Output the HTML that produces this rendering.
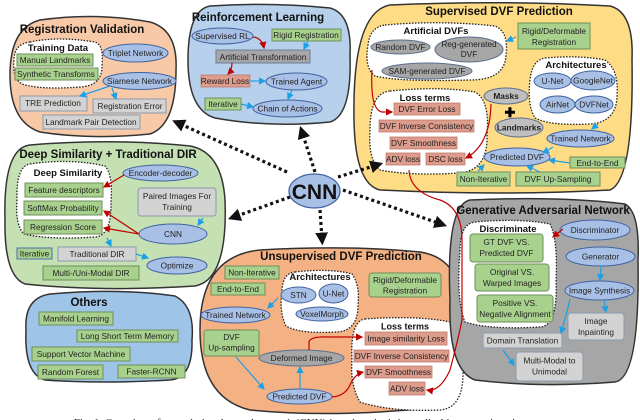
<!DOCTYPE html>
<html><head><meta charset="utf-8"><style>
html,body{margin:0;padding:0;background:#fff;width:640px;height:420px;overflow:hidden}
svg{display:block;font-family:"Liberation Sans",sans-serif}
.t{font-weight:bold;font-size:11.5px;fill:#111}
.st{font-weight:bold;font-size:9.5px;fill:#111}
.l{font-size:8.3px;fill:#222}
.g{fill:#a9d18e;stroke:#6e8f5a;stroke-width:1}
.r{fill:#dd9c8c;stroke:#c07a6a;stroke-width:0.8}
.y{fill:#d3d3d3;stroke:#8a9ab0;stroke-width:1}
.e{fill:#a9c0e6;stroke:#3f63a0;stroke-width:1}
.eg{fill:#a6a6a6;stroke:#5a6e8e;stroke-width:1}
.eb{fill:#bfbfbf;stroke:#5a6e8e;stroke-width:1}
.d{fill:#fff;stroke:#222;stroke-width:1.3;stroke-dasharray:1.5 1.5}
.bl{stroke:#1ea0e6;stroke-width:1.2;fill:none;marker-end:url(#ab)}
.rd{stroke:#c00000;stroke-width:1.2;fill:none;marker-end:url(#ar)}
.cn{stroke:#111;stroke-width:3.2;stroke-dasharray:3 3;fill:none;marker-end:url(#ak)}
</style></head><body>
<svg width="640" height="420" viewBox="0 0 640 420" text-anchor="middle">
<defs>
<marker id="ab" markerWidth="6" markerHeight="6" refX="5" refY="3" orient="auto"><path d="M0,0L6,3L0,6z" fill="#1ea0e6"/></marker>
<marker id="ar" markerWidth="6" markerHeight="6" refX="5" refY="3" orient="auto"><path d="M0,0L6,3L0,6z" fill="#c00000"/></marker>
<marker id="ak" markerWidth="4" markerHeight="4" refX="2" refY="2" orient="auto"><path d="M0,0L4,2L0,4z" fill="#111"/></marker>
</defs>

<path d="M40,20 Q95,12 150,22 Q178,30 176,70 Q176,125 150,134 Q90,140 40,132 Q10,122 10,75 Q10,28 40,20z" fill="#f8c9a6" stroke="#333" stroke-width="1.5"/>
<text class="t" x="82" y="33">Registration Validation</text>
<path d="M30,42 Q58,36 95,42 Q104,45 102,64 Q103,86 80,87 Q40,90 22,84 Q12,78 14,60 Q14,44 30,42z" class="d"/>
<text class="st" x="58" y="51">Training Data</text>
<rect class="g" x="17" y="54" width="76" height="12"/><text class="l" x="55" y="63">Manual Landmarks</text>
<rect class="g" x="15" y="68" width="83" height="12"/><text class="l" x="56" y="77">Synthetic Transforms</text>
<ellipse class="e" cx="135.5" cy="53" rx="32.5" ry="9"/><text class="l" x="135.5" y="56">Triplet Network</text>
<ellipse class="e" cx="139.5" cy="81" rx="36.5" ry="8.5"/><text class="l" x="139.5" y="84">Siamese Network</text>
<rect class="y" x="20" y="96" width="67" height="15"/><text class="l" x="53" y="106">TRE Prediction</text>
<rect class="y" x="93" y="99" width="73" height="14"/><text class="l" x="130" y="109">Registration Error</text>
<rect class="y" x="43" y="115" width="97" height="14"/><text class="l" x="91" y="125">Landmark Pair Detection</text>
<path class="bl" d="M110,86 L80,96"/><path class="bl" d="M112,88 L116,99"/>

<path d="M210,6 Q270,2 330,8 Q352,14 350,55 Q352,115 330,122 Q270,128 215,118 Q188,110 188,60 Q188,10 210,6z" fill="#b7d0ec" stroke="#333" stroke-width="1.5"/>
<text class="t" x="258" y="21">Reinforcement Learning</text>
<ellipse class="e" cx="222.5" cy="36" rx="30.5" ry="8"/><text class="l" x="222.5" y="39">Supervised RL</text>
<rect class="g" x="272" y="29" width="69" height="12"/><text class="l" x="306" y="38">Rigid Registration</text>
<rect x="216" y="50" width="94" height="13" fill="#a6a6a6" stroke="#6b7d99"/><text class="l" x="263" y="60">Artificial Transformation</text>
<rect class="r" x="201" y="75" width="49" height="12"/><text class="l" x="225" y="84">Reward Loss</text>
<ellipse class="e" cx="296.5" cy="81.5" rx="30.5" ry="8.5"/><text class="l" x="296.5" y="84.5">Trained Agent</text>
<rect class="g" x="205" y="98" width="36" height="12"/><text class="l" x="223" y="107">Iterative</text>
<ellipse class="e" cx="287.5" cy="108.5" rx="34.5" ry="8.5"/><text class="l" x="287.5" y="111.5">Chain of Actions</text>
<path class="rd" d="M253,37 Q262,38 264,48"/><path class="rd" d="M232,63 Q232,70 228,74"/>
<path class="bl" d="M308,41 L304,49"/><path class="bl" d="M250,81 L265,81"/><path class="bl" d="M292,90 L288,99"/><path class="bl" d="M241,104 L253,107"/>

<path d="M390,5 Q500,0 610,6 Q634,12 632,60 Q634,180 610,190 Q500,196 380,190 Q355,184 354,120 Q352,12 390,5z" fill="#fedb85" stroke="#333" stroke-width="1.5"/>
<text class="t" x="499" y="15">Supervised DVF Prediction</text>
<path d="M385,25 Q440,20 495,26 Q509,32 506,55 Q505,80 470,80 Q400,82 375,76 Q364,68 368,45 Q370,27 385,25z" class="d"/>
<text class="st" x="436" y="34">Artificial DVFs</text>
<ellipse class="eg" cx="400.5" cy="47" rx="29.5" ry="7"/><text class="l" x="400.5" y="50">Random DVF</text>
<ellipse class="eg" cx="469" cy="49.5" rx="34" ry="12.5"/><text class="l" x="469" y="47">Reg-generated</text><text class="l" x="469" y="57">DVF</text>
<ellipse class="eg" cx="427" cy="71" rx="45" ry="8"/><text class="l" x="427" y="74">SAM-generated DVF</text>
<rect class="g" x="518" y="23" width="72" height="26"/><text class="l" x="554" y="34">Rigid/Deformable</text><text class="l" x="554" y="45">Registration</text>
<path d="M545,58 Q580,55 605,60 Q619,70 617,95 Q617,122 590,124 Q550,126 535,118 Q527,105 530,80 Q532,60 545,58z" class="d"/>
<text class="st" x="576" y="68">Architectures</text>
<ellipse class="e" cx="552.5" cy="81" rx="18.5" ry="8"/><text class="l" x="552.5" y="84">U-Net</text>
<ellipse class="e" cx="593" cy="80.5" rx="22" ry="9.5"/><text class="l" x="593" y="83.5">GoogleNet</text>
<ellipse class="e" cx="557.5" cy="104.5" rx="17.5" ry="8.5"/><text class="l" x="557.5" y="107.5">AirNet</text>
<ellipse class="e" cx="594" cy="104.5" rx="19" ry="8.5"/><text class="l" x="594" y="107.5">DVFNet</text>
<path d="M390,91 Q440,86 475,92 Q490,100 487,135 Q488,170 460,173 Q410,176 380,170 Q368,160 370,130 Q370,93 390,91z" class="d"/>
<text class="st" x="425" y="101">Loss terms</text>
<rect class="r" x="394" y="103" width="66" height="12"/><text class="l" x="427" y="112">DVF Error Loss</text>
<rect class="r" x="379" y="120" width="95" height="12"/><text class="l" x="426.5" y="129">DVF Inverse Consistency</text>
<rect class="r" x="390" y="137" width="67" height="12"/><text class="l" x="423.5" y="146">DVF Smoothness</text>
<rect class="r" x="386" y="153" width="34" height="12"/><text class="l" x="403" y="162">ADV loss</text>
<rect class="r" x="426" y="153" width="39" height="12"/><text class="l" x="445.5" y="162">DSC loss</text>
<ellipse class="eb" cx="506" cy="96" rx="22" ry="8"/><text class="l" x="506" y="99" font-weight="bold">Masks</text>
<text x="510" y="117" font-size="13" font-weight="bold">✚</text>
<ellipse class="eb" cx="519" cy="127.5" rx="24" ry="9.5"/><text class="l" x="519" y="130.5" font-weight="bold">Landmarks</text>
<ellipse class="e" cx="580.5" cy="138.5" rx="33.5" ry="8.5"/><text class="l" x="580.5" y="141.5">Trained Network</text>
<ellipse class="e" cx="517" cy="157" rx="33" ry="9"/><text class="l" x="517" y="160">Predicted DVF</text>
<rect class="g" x="570" y="157" width="55" height="11"/><text class="l" x="597.5" y="166">End-to-End</text>
<rect class="g" x="457" y="172" width="53" height="14"/><text class="l" x="483.5" y="182">Non-Iterative</text>
<rect class="g" x="516" y="172" width="84" height="14"/><text class="l" x="558" y="182">DVF Up-Sampling</text>
<path class="bl" d="M516,37 L507,41"/><path class="bl" d="M598,124 L592,129"/><path class="bl" d="M553,147 L543,153"/><path class="bl" d="M570,163 L549,160"/><path class="bl" d="M478,171 L484,165"/><path class="bl" d="M540,172 L527,166"/>
<path class="rd" d="M372,70 Q370,110 382,112 L392,112"/><path class="rd" d="M491,104 Q490,145 466,158"/>

<path d="M30,145 Q110,138 190,146 Q222,152 225,200 Q228,280 195,286 Q100,292 25,284 Q4,276 5,220 Q3,148 30,145z" fill="#c5e0b3" stroke="#333" stroke-width="1.5"/>
<text class="t" x="108" y="158">Deep Similarity + Traditional DIR</text>
<path d="M30,164 Q70,158 105,166 Q113,175 111,200 Q112,236 95,237 Q50,240 24,234 Q15,225 17,200 Q16,166 30,164z" class="d"/>
<text class="st" x="68" y="176">Deep Similarity</text>
<rect class="g" x="25" y="183" width="78" height="14"/><text class="l" x="64" y="193">Feature descriptors</text>
<rect class="g" x="24" y="201" width="78" height="14"/><text class="l" x="63" y="211">SoftMax Probability</text>
<rect class="g" x="24" y="220" width="78" height="14"/><text class="l" x="63" y="230">Regression Score</text>
<ellipse class="e" cx="160.5" cy="173" rx="37.5" ry="8"/><text class="l" x="160.5" y="176">Encoder-decoder</text>
<rect class="y" x="138" y="188" width="78" height="28" rx="3"/><text class="l" x="177" y="199">Paired Images For</text><text class="l" x="177" y="210">Training</text>
<ellipse class="e" cx="173" cy="234" rx="34" ry="10"/><text class="l" x="173" y="237">CNN</text>
<rect class="g" x="17" y="248" width="35" height="11" style="stroke:#4a70b0"/><text class="l" x="34.5" y="256.5">Iterative</text>
<rect class="y" x="58" y="247" width="78" height="14"/><text class="l" x="97" y="257">Traditional DIR</text>
<ellipse class="e" cx="177" cy="265.5" rx="30" ry="8.5"/><text class="l" x="177" y="268.5">Optimize</text>
<rect class="g" x="43" y="266" width="96" height="14"/><text class="l" x="91" y="276">Multi-/Uni-Modal DIR</text>
<path class="rd" d="M124,175 L104,187"/><path class="rd" d="M139,234 L104,211"/><path class="rd" d="M139,234 L104,228"/>
<path class="bl" d="M203,218 L198,225"/><path class="bl" d="M107,238 L111,246"/><path class="bl" d="M136,254 L148,258"/>

<path d="M50,294 Q120,288 175,296 Q195,306 192,340 Q193,378 170,380 Q100,384 45,380 Q24,374 26,330 Q24,298 50,294z" fill="#9ec4e8" stroke="#333" stroke-width="1.5"/>
<text class="t" x="89" y="306">Others</text>
<rect class="g" x="39" y="312" width="74" height="13"/><text class="l" x="76" y="321.5">Manifold Learning</text>
<rect class="g" x="77" y="330" width="101" height="12"/><text class="l" x="127.5" y="339">Long Short Term Memory</text>
<rect class="g" x="32" y="347" width="98" height="14"/><text class="l" x="81" y="357">Support Vector Machine</text>
<rect class="g" x="38" y="365" width="65" height="14"/><text class="l" x="70.5" y="375">Random Forest</text>
<rect class="g" x="118" y="365" width="67" height="13"/><text class="l" x="151.5" y="374.5">Faster-RCNN</text>

<path d="M260,250 Q350,245 420,252 Q458,258 460,300 Q462,400 430,408 Q330,418 250,410 Q200,398 200,330 Q200,256 260,250z" fill="#f4b183" stroke="#333" stroke-width="1.5"/>
<text class="t" x="341" y="260">Unsupervised DVF Prediction</text>
<rect class="g" x="225" y="266" width="54" height="13"/><text class="l" x="252" y="275.5">Non-Iterative</text>
<rect class="g" x="211" y="283" width="54" height="12"/><text class="l" x="238" y="292">End-to-End</text>
<path d="M295,272 Q330,268 352,274 Q360,285 358,305 Q358,332 335,332 Q300,334 286,326 Q279,312 282,290 Q283,273 295,272z" class="d"/>
<text class="st" x="320" y="280">Architectures</text>
<ellipse class="e" cx="298.5" cy="295" rx="17.5" ry="8"/><text class="l" x="298.5" y="298">STN</text>
<ellipse class="e" cx="333.5" cy="293.5" rx="14.5" ry="9.5"/><text class="l" x="333.5" y="296.5">U-Net</text>
<ellipse class="e" cx="322" cy="314" rx="26" ry="7"/><text class="l" x="322" y="317">VoxelMorph</text>
<rect class="g" x="369" y="273" width="72" height="24" rx="3"/><text class="l" x="405" y="283">Rigid/Deformable</text><text class="l" x="405" y="293.5">Registration</text>
<ellipse class="e" cx="235.5" cy="315" rx="34.5" ry="8"/><text class="l" x="235.5" y="318">Trained Network</text>
<rect class="g" x="204" y="330" width="55" height="26" rx="2"/><text class="l" x="231.5" y="340">DVF</text><text class="l" x="231.5" y="350.5">Up-sampling</text>
<ellipse cx="301.5" cy="358" rx="42.5" ry="8" fill="#a6a6a6" stroke="#5a6e8e"/><text class="l" x="301.5" y="361">Deformed Image</text>
<ellipse class="e" cx="299.5" cy="396.5" rx="32.5" ry="7.5"/><text class="l" x="299.5" y="399.5">Predicted DVF</text>
<path d="M365,319 Q420,315 455,323 Q465,340 463,370 Q464,408 440,410 Q390,412 360,402 Q350,385 352,360 Q350,321 365,319z" class="d"/>
<text class="st" x="405" y="329.5" style="font-size:9px">Loss terms</text>
<rect class="r" x="365" y="332" width="82" height="13"/><text class="l" x="406" y="341.5">Image similarity Loss</text>
<rect class="r" x="354" y="350" width="95" height="12"/><text class="l" x="401.5" y="359">DVF Inverse Consistency</text>
<rect class="r" x="365" y="366" width="67" height="12"/><text class="l" x="398.5" y="375">DVF Smoothness</text>
<rect class="r" x="389" y="382" width="36" height="13"/><text class="l" x="407" y="391.5">ADV loss</text>
<path class="bl" d="M278,298 L268,308"/><path class="bl" d="M236,357 L264,389"/><path class="bl" d="M300,389 L300,367"/>
<path class="rd" d="M309,350 L309,342 Q310,336 330,337 L362,337"/><path class="rd" d="M332,397 Q345,396 350,385 Q355,374 363,372"/>

<path d="M470,200 Q560,196 625,204 Q640,212 638,260 Q640,378 615,382 Q540,388 475,380 Q448,370 450,300 Q446,205 470,200z" fill="#a6a6a6" stroke="#333" stroke-width="1.5"/>
<text class="t" x="543" y="214">Generative Adversarial Network</text>
<path d="M475,222 Q520,218 550,224 Q558,240 556,280 Q558,326 540,327 Q490,330 465,322 Q456,300 460,250 Q460,224 475,222z" class="d"/>
<text class="st" x="508" y="232">Discriminate</text>
<rect class="g" x="470" y="234" width="73" height="28" rx="3"/><text class="l" x="506.5" y="245">GT DVF VS.</text><text class="l" x="506.5" y="256">Predicted DVF</text>
<rect class="g" x="475" y="264" width="74" height="27" rx="3"/><text class="l" x="512" y="275">Original VS.</text><text class="l" x="512" y="286">Warped Images</text>
<rect class="g" x="477" y="295" width="76" height="27" rx="3"/><text class="l" x="515" y="306">Positive VS.</text><text class="l" x="515" y="317">Negative Alignment</text>
<ellipse class="e" cx="595" cy="230" rx="35" ry="10"/><text class="l" x="595" y="233">Discriminator</text>
<ellipse class="e" cx="600.5" cy="256.5" rx="34.5" ry="9.5"/><text class="l" x="600.5" y="259.5">Generator</text>
<ellipse class="e" cx="599.5" cy="290.5" rx="34.5" ry="9.5"/><text class="l" x="599.5" y="293.5">Image Synthesis</text>
<rect class="y" x="568" y="313" width="56" height="27" rx="3"/><text class="l" x="596" y="324">Image</text><text class="l" x="596" y="335">Inpainting</text>
<rect class="y" x="483" y="333" width="79" height="15" rx="2"/><text class="l" x="522.5" y="343.5">Domain Translation</text>
<rect class="y" x="516" y="352" width="67" height="29" rx="3"/><text class="l" x="549.5" y="363.5">Multi-Modal to</text><text class="l" x="549.5" y="374.5">Unimodal</text>
<path class="rd" d="M563,229 L553,237"/>
<path class="bl" d="M601,266 L600,280"/><path class="bl" d="M604,300 L606,312"/><path class="bl" d="M570,299 Q565,320 561,333"/><path class="bl" d="M503,350 L514,365"/>
<path class="rd" d="M409,170 Q410,192 440,200 Q462,208 462,240 L462,320 Q458,340 450,370 Q440,392 427,390"/>

<path class="cn" d="M287,172 L178,123"/>
<path class="cn" d="M315,172 L302,132"/>
<path class="cn" d="M338,177 L377,165"/>
<path class="cn" d="M290,197 L234,217"/>
<path class="cn" d="M320,210 L322,239"/>
<path class="cn" d="M343,190 L441,224"/>
<ellipse cx="314.5" cy="191" rx="25.5" ry="17" fill="#a9c0e6" stroke="#3f63a0" stroke-width="1.3"/>
<text x="314.5" y="199" font-size="21" font-weight="bold" fill="#111">CNN</text>

<text x="300" y="426" font-size="11" fill="#222" font-family="Liberation Serif,serif">Fig. 1: Overview of convolutional neural network (CNN)-based methods in medical image registration</text>
</svg>
</body></html>
